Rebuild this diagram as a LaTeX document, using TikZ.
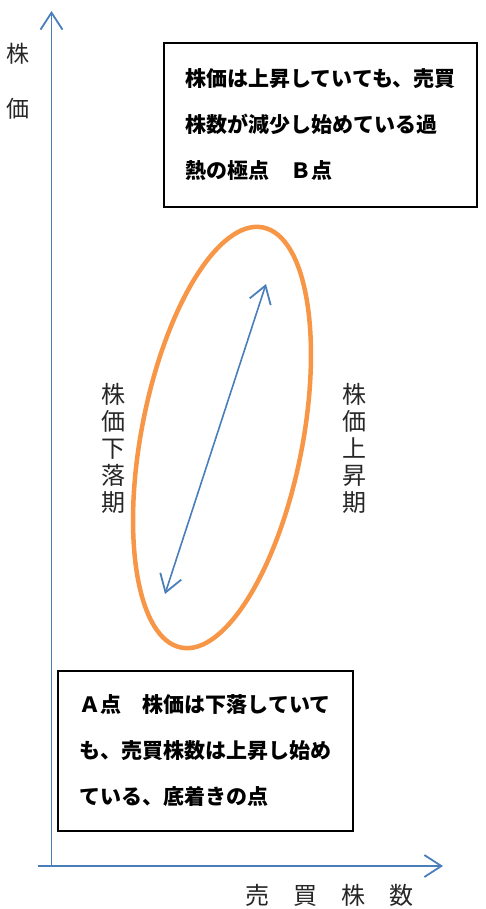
\documentclass[tikz,border=0pt]{standalone}
\usepackage{fontspec}
\setmainfont{Noto Sans CJK JP}
\usetikzlibrary{arrows.meta}
\definecolor{axisblue}{HTML}{4A7EBB}
\definecolor{ellorange}{HTML}{F79646}
\begin{document}
\begin{tikzpicture}[x=1pt,y=-1pt,
  axisline/.style={draw=axisblue,line width=1.8pt},
  barbtip/.tip={Straight Barb[length=17pt,width=22pt,line width=1.8pt]},
  infobox/.style={draw=black,line width=1.4pt,align=left,inner sep=0pt,
    font=\bfseries\fontsize{21}{46}\selectfont},
  vlabel/.style={align=center,inner sep=0pt,font=\fontsize{24}{27}\selectfont,text=black!85},
  axlabel/.style={inner sep=0pt,text=black!85}]
\useasboundingbox (0,0) rectangle (485,909);
% axes
\coordinate (origin) at (51.5,866);
\coordinate (ytip) at (51.5,11);
\coordinate (xstart) at (38,866);
\coordinate (xtip) at (443,866);
\draw[axisline,-barbtip] (origin) -- (ytip);
\draw[axisline,-barbtip] (xstart) -- (xtip);
% axis labels
\node[axlabel,align=center,font=\fontsize{23}{55}\selectfont] (ylab) at (18,81) {株\\価};
\node[axlabel,font=\fontsize{24}{24}\selectfont] (xlab) at (329,895) {売　買　株　数};
% ellipse
\draw[ellorange,line width=4.5pt] (222,437.5) ellipse[x radius=80.5,y radius=214,rotate=-11];
% double arrow
\coordinate (alow) at (165,594);
\coordinate (ahigh) at (266,284);
\draw[axisline,line width=1.6pt,barbtip-barbtip] (alow) -- (ahigh);
% vertical labels
\node[vlabel] (down) at (113,448) {株\\価\\下\\落\\期};
\node[vlabel] (up) at (354,448) {株\\価\\上\\昇\\期};
% boxes
\node[infobox,minimum width=313pt,minimum height=164pt] (boxB) at (320.5,125)
  {株価は上昇していても、売買\\株数が減少し始めている過\\熱の極点　Ｂ点};
\node[infobox,minimum width=295pt,minimum height=160pt] (boxA) at (205.5,751)
  {Ａ点　株価は下落していて\\も、売買株数は上昇し始め\\ている、底着きの点};
\end{tikzpicture}
\end{document}
